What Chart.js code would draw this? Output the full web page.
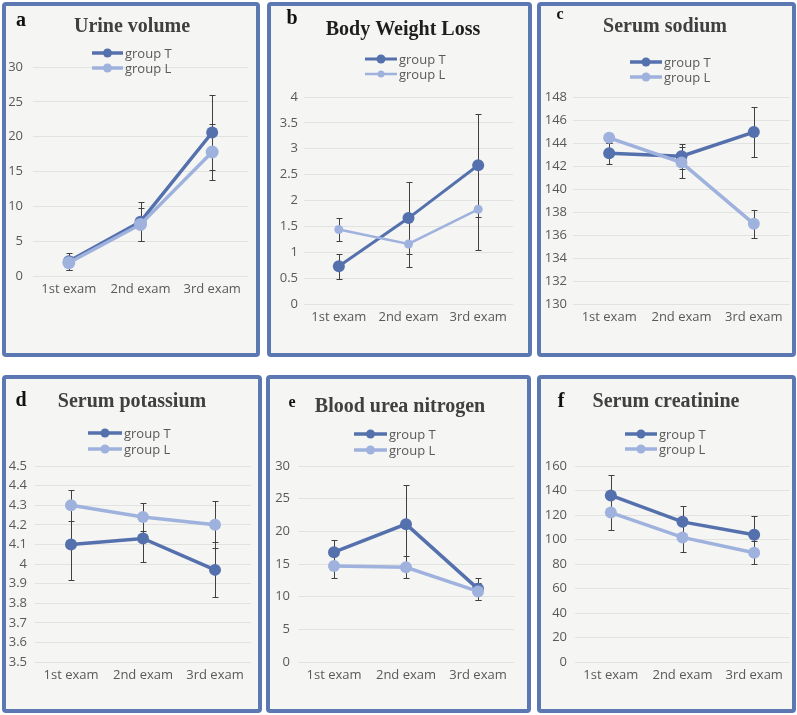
<!DOCTYPE html>
<html>
<head>
<meta charset="utf-8">
<script src="https://cdn.jsdelivr.net/npm/chart.js@4.4.1/dist/chart.umd.min.js"></script>
<style>
  html, body { margin: 0; padding: 0; background: #ffffff; }
  body { width: 797px; height: 715px; position: relative; overflow: hidden; }
  .panel {
    position: absolute;
    box-sizing: border-box;
    border: 4px solid #5b78b2;
    border-radius: 4px;
    background: #f5f5f3;
  }
  .panel canvas { position: absolute; left: -4px; top: -4px; }
</style>
</head>
<body>

<div class="panel" id="pa"><canvas id="ca"></canvas></div>
<div class="panel" id="pb"><canvas id="cb"></canvas></div>
<div class="panel" id="pc"><canvas id="cc"></canvas></div>
<div class="panel" id="pd"><canvas id="cd"></canvas></div>
<div class="panel" id="pe"><canvas id="ce"></canvas></div>
<div class="panel" id="pf"><canvas id="cf"></canvas></div>

<script>
/* ===== dados ===== */
const examLabels = ['1st exam', '2nd exam', '3rd exam'];
const groupNames = ['group T', 'group L'];

// a - Urine volume
const urineT = [2.1, 7.8, 20.6];
const urineTErr = [1.2, 2.8, 5.4];
const urineL = [1.9, 7.4, 17.8];
const urineLErr = [1.0, 2.4, 3.95];
const urineAxis = [0, 30, 5];

// b - Body Weight Loss
const weightT = [0.73, 1.66, 2.68];
const weightTErr = [0.24, 0.69, 1.0];
const weightL = [1.44, 1.16, 1.83];
const weightLErr = [0.22, 0.44, 0.79];
const weightAxis = [0, 4, 0.5];

// c - Serum sodium
const sodiumT = [143.1, 142.85, 144.95];
const sodiumTErr = [0.9, 1.1, 2.2];
const sodiumL = [144.45, 142.3, 136.97];
const sodiumLErr = [0.45, 1.35, 1.2];
const sodiumAxis = [130, 148, 2];

// d - Serum potassium
const potassiumT = [4.10, 4.13, 3.97];
const potassiumTErr = [0.18, 0.12, 0.14];
const potassiumL = [4.30, 4.24, 4.20];
const potassiumLErr = [0.08, 0.07, 0.12];
const potassiumAxis = [3.5, 4.5, 0.1];

// e - Blood urea nitrogen
const bunT = [16.8, 21.1, 11.2];
const bunTErr = [1.85, 5.95, 1.7];
const bunL = [14.7, 14.5, 10.8];
const bunLErr = [1.9, 1.7, 1.3];
const bunAxis = [0, 30, 5];

// f - Serum creatinine
const creatT = [136, 114.4, 103.8];
const creatTErr = [17, 12.8, 15.2];
const creatL = [122, 101.7, 89.2];
const creatLErr = [14, 11.7, 9.2];
const creatAxis = [0, 160, 20];

/* ===== estilos ===== */
const COR_T = '#5571ad';
const COR_L = '#9fb2de';
const SANS = '"Open Sans", "Noto Sans", sans-serif';
const SERIF = '"Liberation Serif", "DejaVu Serif", serif';

/* ===== plugins ===== */

// barras de erro, desenhadas a partir das escalas
const errorBars = {
  id: 'errorBars',
  beforeDatasetsDraw(chart) {
    const ctx = chart.ctx;
    const y = chart.scales.y;
    ctx.save();
    ctx.strokeStyle = '#404040';
    ctx.lineWidth = 1;
    chart.data.datasets.forEach((ds, i) => {
      const meta = chart.getDatasetMeta(i);
      meta.data.forEach((pt, j) => {
        const v = ds.data[j], e = ds.errs[j];
        const top = Math.round(y.getPixelForValue(v + e)) + 0.5;
        const bot = Math.round(y.getPixelForValue(v - e)) + 0.5;
        const x = Math.round(pt.x) + 0.5;
        ctx.beginPath();
        ctx.moveTo(x, top); ctx.lineTo(x, bot);
        ctx.moveTo(x - 3, top); ctx.lineTo(x + 3, top);
        ctx.moveTo(x - 3, bot); ctx.lineTo(x + 3, bot);
        ctx.stroke();
      });
    });
    ctx.restore();
  }
};

// letra, título e legenda do painel
const panelDeco = {
  id: 'panelDeco',
  afterDraw(chart, args, o) {
    const ctx = chart.ctx;
    ctx.save();
    ctx.textAlign = 'center';
    ctx.textBaseline = 'middle';
    ctx.fillStyle = '#111111';
    ctx.font = 'bold ' + o.letterSize + 'px ' + SERIF;
    ctx.fillText(o.letter, o.letterPos[0], o.letterPos[1]);
    ctx.fillStyle = o.titleColor;
    ctx.font = 'bold 20px ' + SERIF;
    ctx.fillText(o.title, o.titlePos[0], o.titlePos[1]);

    ctx.textAlign = 'left';
    ctx.font = '13px ' + SANS;
    // ordem da legenda: group T, group L
    [1, 0].forEach((dsIdx, k) => {
      const ds = chart.data.datasets[dsIdx];
      const yy = o.legendRows[k];
      ctx.strokeStyle = ds.borderColor;
      ctx.lineWidth = ds.borderWidth;
      ctx.beginPath();
      ctx.moveTo(o.legendX[0], yy);
      ctx.lineTo(o.legendX[1], yy);
      ctx.stroke();
      ctx.fillStyle = ds.borderColor;
      ctx.beginPath();
      ctx.arc((o.legendX[0] + o.legendX[1]) / 2, yy, o.legendDot[k], 0, Math.PI * 2);
      ctx.fill();
      ctx.fillStyle = '#595959';
      ctx.fillText(ds.label, o.legendX[1] + 2, yy + 1);
    });
    ctx.restore();
  }
};

/* ===== construção dos gráficos ===== */
function buildPanel(p) {
  const div = document.getElementById(p.div);
  div.style.left = p.box[0] + 'px';
  div.style.top = p.box[1] + 'px';
  div.style.width = p.box[2] + 'px';
  div.style.height = p.box[3] + 'px';

  const canvas = document.getElementById(p.canvas);
  canvas.width = p.box[2];
  canvas.height = p.box[3];

  const W = p.box[2], H = p.box[3];
  const xh = 30;
  const yw = p.plot[0] - 2;

  new Chart(canvas, {
    type: 'line',
    data: {
      labels: examLabels,
      datasets: [
        {
          label: groupNames[1],
          data: p.dataL,
          errs: p.errL,
          order: 0,
          borderColor: COR_L,
          backgroundColor: COR_L,
          borderWidth: p.lineL,
          pointRadius: p.dotL,
          pointHoverRadius: p.dotL,
          pointBorderWidth: 0
        },
        {
          label: groupNames[0],
          data: p.dataT,
          errs: p.errT,
          order: 1,
          borderColor: COR_T,
          backgroundColor: COR_T,
          borderWidth: p.lineT,
          pointRadius: p.dotT,
          pointHoverRadius: p.dotT,
          pointBorderWidth: 0
        }
      ]
    },
    options: {
      responsive: false,
      animation: false,
      devicePixelRatio: 1,
      layout: {
        padding: {
          left: 2,
          top: p.plot[2],
          right: W - p.plot[1],
          bottom: H - p.plot[3] - xh
        }
      },
      plugins: {
        legend: { display: false },
        tooltip: { enabled: false },
        panelDeco: p.deco
      },
      scales: {
        x: {
          offset: true,
          grid: { display: false, drawTicks: false },
          border: { display: false },
          ticks: {
            color: '#595959',
            padding: 5,
            maxRotation: 0,
            font: { size: 13, family: SANS }
          },
          afterFit: s => { s.height = xh; }
        },
        y: {
          min: p.axis[0],
          max: p.axis[1],
          grid: { color: '#e2e2e0', drawTicks: false },
          border: { display: false },
          ticks: {
            stepSize: p.axis[2],
            color: '#595959',
            padding: p.yPad,
            font: { size: 13, family: SANS },
            callback: v => String(parseFloat(v.toFixed(2)))
          },
          afterFit: s => { s.width = yw; }
        }
      }
    },
    plugins: [errorBars, panelDeco]
  });
}

const panels = [
  {
    div: 'pa', canvas: 'ca', box: [2, 2, 258, 355], plot: [31, 246, 65, 274], yPad: 10,
    dataT: urineT, errT: urineTErr, dataL: urineL, errL: urineLErr, axis: urineAxis,
    lineT: 3.5, lineL: 3.5, dotT: 6, dotL: 6.5,
    deco: { letter: 'a', letterSize: 20, letterPos: [19, 19], title: 'Urine volume', titleColor: '#404040',
            titlePos: [130, 25], legendX: [90, 121], legendRows: [51, 66], legendDot: [4.5, 4.5] }
  },
  {
    div: 'pb', canvas: 'cb', box: [267, 2, 265, 355], plot: [37, 246, 95, 302], yPad: 6,
    dataT: weightT, errT: weightTErr, dataL: weightL, errL: weightLErr, axis: weightAxis,
    lineT: 3, lineL: 2.5, dotT: 6, dotL: 4.5,
    deco: { letter: 'b', letterSize: 20, letterPos: [25, 17], title: 'Body Weight Loss', titleColor: '#1e1e1e',
            titlePos: [136, 28], legendX: [98, 130], legendRows: [57, 72], legendDot: [4.5, 3.5] }
  },
  {
    div: 'pc', canvas: 'cc', box: [537, 2, 259, 355], plot: [36, 253, 95, 302], yPad: 6,
    dataT: sodiumT, errT: sodiumTErr, dataL: sodiumL, errL: sodiumLErr, axis: sodiumAxis,
    lineT: 3.5, lineL: 3.5, dotT: 6, dotL: 6,
    deco: { letter: 'c', letterSize: 16, letterPos: [23, 13], title: 'Serum sodium', titleColor: '#404040',
            titlePos: [128, 25], legendX: [93, 125], legendRows: [60, 75], legendDot: [4.5, 4.5] }
  },
  {
    div: 'pd', canvas: 'cd', box: [2, 375, 260, 338], plot: [33, 249, 91, 287], yPad: 8,
    dataT: potassiumT, errT: potassiumTErr, dataL: potassiumL, errL: potassiumLErr, axis: potassiumAxis,
    lineT: 3.5, lineL: 3.5, dotT: 6, dotL: 6,
    deco: { letter: 'd', letterSize: 20, letterPos: [19, 26], title: 'Serum potassium', titleColor: '#404040',
            titlePos: [130, 27], legendX: [86, 120], legendRows: [58, 74], legendDot: [4.5, 4.5] }
  },
  {
    div: 'pe', canvas: 'ce', box: [266, 375, 265, 338], plot: [32, 248, 91, 287], yPad: 8,
    dataT: bunT, errT: bunTErr, dataL: bunL, errL: bunLErr, axis: bunAxis,
    lineT: 3.5, lineL: 3.5, dotT: 6, dotL: 6,
    deco: { letter: 'e', letterSize: 16, letterPos: [26, 28], title: 'Blood urea nitrogen', titleColor: '#404040',
            titlePos: [134, 32], legendX: [88, 121], legendRows: [59, 75], legendDot: [4.5, 4.5] }
  },
  {
    div: 'pf', canvas: 'cf', box: [537, 375, 259, 338], plot: [38, 253, 91, 287], yPad: 8,
    dataT: creatT, errT: creatTErr, dataL: creatL, errL: creatLErr, axis: creatAxis,
    lineT: 3.5, lineL: 3.5, dotT: 6, dotL: 6,
    deco: { letter: 'f', letterSize: 20, letterPos: [24, 27], title: 'Serum creatinine', titleColor: '#404040',
            titlePos: [129, 27], legendX: [88, 120], legendRows: [59, 74], legendDot: [4.5, 4.5] }
  }
];

panels.forEach(buildPanel);
</script>
</body>
</html>
